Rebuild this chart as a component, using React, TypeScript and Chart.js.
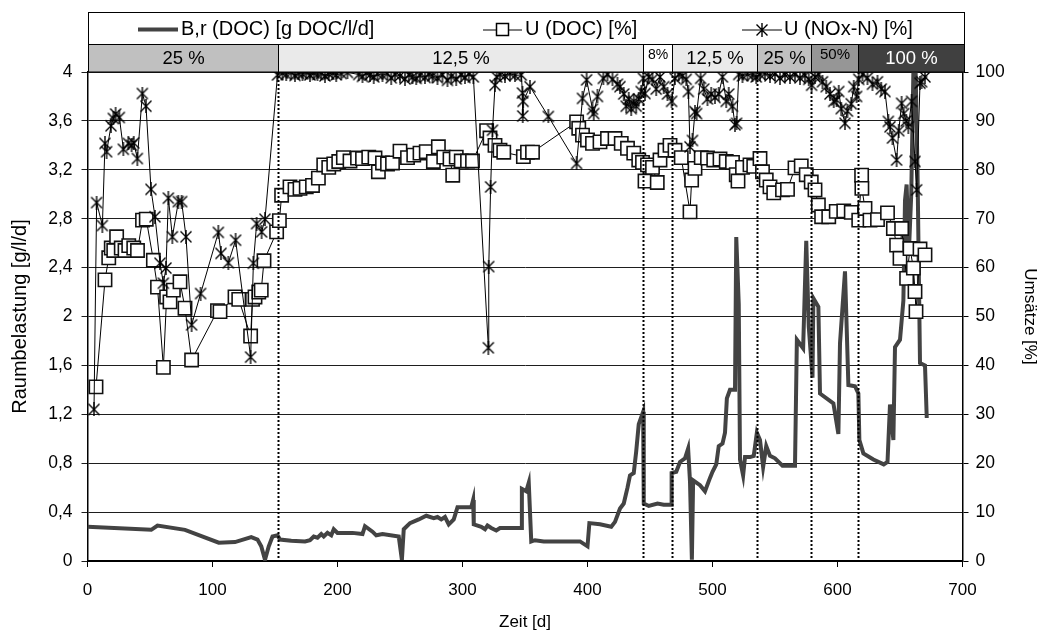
import { useEffect, useRef } from 'react';
import { Chart, registerables } from 'chart.js';

Chart.register(...registerables);

const FONT = "'Liberation Sans', Arial, sans-serif";

// B,r (DOC) volumetric load [g DOC/l/d] over time [d]
const brDays = [
  0, 51, 56, 78, 105, 118, 131, 136, 139, 142, 145, 148, 152, 154, 163, 174, 178, 181, 184, 187,
  189, 192, 195, 197, 200, 212, 220, 222, 228, 231, 236, 249, 251.5, 253, 258, 265, 271, 277, 280, 283,
  286, 289, 293, 296, 307, 308.5, 309, 315, 318, 320, 323, 327, 330, 347, 347.5, 351, 353, 355, 358, 365,
  394, 400, 401.5, 410, 419, 422, 426, 429, 432, 434, 437, 439, 441, 444.5, 445, 449, 456, 461, 467, 467.3,
  471, 474, 478, 480.5, 482, 483.5, 484.5, 490, 494, 498, 500, 503, 505, 508, 510, 511.5, 514, 518, 519, 521,
  522, 524.5, 526, 530, 533, 535.5, 538, 540.5, 543, 546, 550, 556, 566, 567.5, 572.5, 575, 577, 580, 580.7, 584.7,
  586, 596.7, 600.7, 602, 606, 608.7, 614, 616.7, 617.5, 620.7, 628.7, 637, 640, 642, 644.7, 646, 650, 652.7, 654, 655.3,
  657, 659, 660.7, 662.5, 664, 666, 670, 671.4,
];
const brValues = [
  0.28, 0.255, 0.29, 0.255, 0.15, 0.155, 0.195, 0.175, 0.12, 0.01, 0.12, 0.2, 0.21, 0.175, 0.165, 0.16, 0.17, 0.2, 0.19, 0.22,
  0.2, 0.23, 0.21, 0.26, 0.23, 0.23, 0.22, 0.285, 0.24, 0.21, 0.22, 0.2, 0.01, 0.26, 0.31, 0.34, 0.37, 0.35, 0.36, 0.34,
  0.36, 0.3, 0.34, 0.44, 0.44, 0.5, 0.3, 0.28, 0.26, 0.29, 0.27, 0.25, 0.27, 0.27, 0.59, 0.57, 0.64, 0.16, 0.17, 0.16,
  0.16, 0.12, 0.31, 0.3, 0.28, 0.32, 0.43, 0.47, 0.6, 0.7, 0.72, 0.9, 1.12, 1.22, 0.47, 0.45, 0.47, 0.46, 0.46, 0.72,
  0.73, 0.81, 0.84, 0.92, 0.65, 0.01, 0.66, 0.62, 0.57, 0.68, 0.73, 0.79, 0.94, 0.96, 1.05, 1.33, 1.4, 1.4, 2.65, 2.1,
  0.83, 0.7, 0.85, 0.85, 0.86, 1.05, 0.99, 0.77, 0.94, 0.86, 0.84, 0.78, 0.78, 1.81, 1.74, 2.62, 1.92, 1.5, 2.15, 2.08,
  1.37, 1.29, 1.04, 1.78, 2.37, 1.44, 1.43, 1.37, 0.99, 0.88, 0.83, 0.79, 0.81, 1.28, 0.99, 1.75, 1.81, 2.13, 2.95, 3.08,
  2.5, 3.0, 4.0, 4.0, 3.2, 1.62, 1.6, 1.17,
];

// U (DOC) conversion [%]
const docDays = [
  6.8, 14, 17, 19, 21, 23.3, 27, 30, 33, 37, 40, 44, 47, 52.7, 56, 60.7, 63.3, 66, 68.7, 74,
  78, 83.3, 104, 106, 118, 121, 130.5, 132, 134, 137, 139, 141.2, 151.3, 153.5, 155.3, 162, 166, 170, 175, 180,
  184.7, 189, 193, 197, 201, 204.7, 210, 216, 220, 225, 230, 232.7, 236, 240, 244, 250, 256, 261, 266, 271,
  276.7, 280.7, 285, 290, 292.2, 295, 299, 304, 308, 319.3, 322, 326, 330, 333, 348.7, 352, 356, 391.3, 393, 396,
  400, 404, 410, 416, 422, 427, 432, 437, 441, 444, 446, 448, 452, 455.8, 458, 462, 466, 470, 475, 482,
  483.3, 486, 491, 496, 501, 506, 511, 516, 519, 520.4, 524, 530, 533, 538, 540, 543, 546, 549, 556, 560,
  566, 571, 575, 579, 582, 584.7, 587.3, 593, 599, 605, 611, 617, 619.3, 619.5, 622, 626, 632, 640, 644.7, 647.3,
  650, 651.3, 655.3, 658, 660.7, 662, 662.8, 666, 670,
];
const docValues = [
  35.6, 57.5, 62, 64, 63.5, 66.3, 64, 63.5, 64.5, 64, 63.5, 69.7, 69.9, 61.5, 56, 39.6, 54, 53, 55.4, 57.1,
  51.7, 41.1, 51.2, 51, 54, 53.5, 46, 53.5, 54, 55, 55.4, 61.4, 67.3, 69.6, 74.8, 76.5, 76, 76.2, 76.5, 76.8,
  78.3, 81, 80.5, 81.2, 81.7, 82.5, 81.8, 82.4, 82.3, 82.6, 82.4, 79.6, 81.4, 81.2, 81.4, 83.8, 82.5, 83, 83.4, 83.7,
  81.7, 84.7, 82.6, 82.2, 78.9, 82.6, 81.8, 81.8, 81.8, 88, 86.5, 85, 84, 83.6, 82.7, 83.6, 83.6, 89.8, 88.5, 87.1,
  86.1, 85.4, 85.7, 86.4, 86.4, 85.4, 84.4, 83.4, 82, 81.5, 77.7, 81, 80.5, 77.4, 82, 84, 85, 84, 82.5, 71.4,
  77.9, 80.3, 82.5, 82.4, 82, 82.2, 81.7, 81.5, 79, 77.7, 80.5, 81, 80.7, 82.3, 79.6, 77.9, 76.5, 75.3, 75.9, 76,
  80.4, 80.8, 79, 77.5, 75.9, 72.8, 70.4, 70.4, 71.5, 71.6, 71.3, 69.7, 78.9, 76.2, 72.1, 69.7, 69.8, 71.2, 68, 64.6,
  61.9, 68, 57.8, 63.9, 59.9, 55.1, 51, 63.8, 62.6,
];

// U (NOx-N) conversion [%]
const noxDays = [
  5.2, 7.3, 11.9, 14, 15.3, 18.8, 20.7, 22.5, 25.5, 28.7, 32.7, 35.3, 37, 39.9, 43.9, 46.8, 50.8, 54, 58, 60.7,
  62.8, 64.7, 67.9, 72.7, 75.3, 78.8, 83.3, 90.5, 104.7, 106.8, 112.7, 118.5, 130.5, 132.7, 135.3, 139.3, 142, 152, 156, 159,
  163, 166, 169, 172, 175, 178, 181, 184, 187, 190, 193, 196, 199, 203, 208, 217, 220, 223, 226, 229,
  232, 236, 240, 243, 246, 250, 254, 257, 260, 263, 266, 270, 273, 276, 280, 284, 288, 291, 295, 299,
  302, 305, 308.7, 320.7, 321, 322.5, 324, 326, 327.3, 330, 334, 338, 342, 347, 348, 348.2, 348.5, 354, 368.7, 391.3,
  396, 399.3, 404, 405, 408, 412.7, 416, 420, 424, 426, 429, 431, 433, 435, 437, 439, 441, 443, 444.7, 446,
  449, 452, 455, 458, 461, 464, 467.3, 470, 473, 476, 479, 480.7, 482, 484, 486, 487.3, 490.5, 493, 496, 499,
  502, 505, 508, 511, 513, 516, 518, 519.3, 521, 524, 528, 532, 535, 538, 542, 546, 550, 554, 558, 562,
  566, 570, 574, 577, 579.3, 582, 585, 588, 591, 594, 597, 599.3, 601, 603, 606, 608, 611, 613, 615.3, 617,
  620, 624, 628, 632, 635, 638, 640.7, 642, 644, 647.3, 649, 651.3, 653, 655, 656.7, 659.3, 662, 663.3, 666, 667.3,
  670,
];
const noxValues = [
  31, 73.3, 68.6, 85.4, 83.7, 89, 90.5, 91.4, 90.7, 84.2, 85.4, 85, 85.5, 82.3, 95.6, 93, 76, 70.4, 60.9, 56.8,
  59.9, 74.2, 66.3, 73.5, 73.5, 66.3, 48.3, 54.7, 67.2, 62.9, 61, 65.6, 41.7, 60.9, 69, 67.3, 69.9, 99.4, 99.8, 99.5,
  99.9, 99.3, 99.7, 99.6, 99.9, 99.4, 99.8, 99.5, 99.7, 99.2, 99.6, 99.8, 99.4, 99.7, 99.9, 99.5, 99.1, 99.8, 99.4, 99,
  99.6, 99.3, 99.7, 98.8, 99.5, 99.2, 98.6, 99.4, 99, 98.7, 99.3, 98.9, 99.5, 99.2, 98.8, 99.4, 98.3, 99.1, 98.6, 99.4,
  98.9, 99.6, 99, 43.6, 60.2, 76.5, 88.1, 97.3, 99, 99.5, 99.2, 99.7, 99.3, 99.4, 95.7, 91, 94, 97, 90.9, 81.3,
  94.6, 98.4, 92.4, 91.5, 95, 98.7, 99.5, 98.5, 97.5, 97, 95.5, 93, 94.5, 92.5, 94, 93, 94.5, 96, 98.7, 95.6,
  99, 98.5, 96.5, 99, 97, 95.5, 94, 98.7, 99.5, 99.2, 98.5, 96, 84.7, 86, 91.9, 91.5, 98.7, 96.5, 94.5, 95.5,
  94.8, 95.5, 99, 94, 95.5, 93, 89.2, 89.5, 99.5, 99.2, 99.6, 99.3, 99, 99.5, 99.7, 99.2, 99.6, 98.8, 99.4, 99,
  99.5, 98.8, 99.3, 98.5, 97.3, 99, 99.5, 98, 97, 95.5, 94, 94.3, 96, 92.5, 89.5, 92, 93.5, 97, 95, 98.5,
  99.5, 98.8, 97.5, 98, 96.5, 96, 89.9, 88.8, 86.5, 82, 88, 93.6, 91.5, 90, 88.8, 94, 81.7, 75.9, 97.7, 98,
  99,
];

// Loading phases shown in the band above the plot
const phaseStarts = [0, 152.2, 444.6, 467.8, 535.6, 579, 616.2];
const phaseEnds = [152.2, 444.6, 467.8, 535.6, 579, 616.2, 700];
const phaseLabels = ['25 %', '12,5 %', '8%', '12,5 %', '25 %', '50%', '100 %'];
const phaseFills = ['#c0c0c0', '#eaeaea', '#ffffff', '#eaeaea', '#c0c0c0', '#969696', '#404040'];
const phaseTextColors = ['#000', '#000', '#000', '#000', '#000', '#000', '#fff'];
const phaseFontSizes = [18.5, 18.5, 14, 18.5, 18.5, 15, 18.5];

// Phase switch days (dotted markers)
const switchDays = [152.2, 444.6, 467.8, 535.6, 579, 616.2];

const seriesNames = ['B,r (DOC) [g DOC/l/d]', 'U (DOC) [%]', 'U (NOx-N) [%]'];

const BR_COLOR = '#434343';

function makeStar(): HTMLCanvasElement {
  const c = document.createElement('canvas');
  c.width = 14;
  c.height = 14;
  const g = c.getContext('2d')!;
  g.strokeStyle = '#000';
  g.lineWidth = 1.4;
  g.beginPath();
  g.moveTo(1.5, 1.5);
  g.lineTo(12.5, 12.5);
  g.moveTo(12.5, 1.5);
  g.lineTo(1.5, 12.5);
  g.moveTo(7, 0);
  g.lineTo(7, 14);
  g.stroke();
  return c;
}

function formatLeft(v: number): string {
  return String(Number(v.toFixed(1))).replace('.', ',');
}

export default function App() {
  const ref = useRef<HTMLCanvasElement>(null);

  useEffect(() => {
    const star = makeStar();

    const decor = {
      id: 'decor',
      afterDatasetsDraw(chart: any) {
        const { ctx, chartArea } = chart;
        const xs = chart.scales.x;
        ctx.save();
        ctx.strokeStyle = '#000';
        ctx.lineWidth = 2;
        ctx.setLineDash([2, 2]);
        for (const d of switchDays) {
          const x = Math.round(xs.getPixelForValue(d)) + 0.5;
          ctx.beginPath();
          ctx.moveTo(x, chartArea.top);
          ctx.lineTo(x, chartArea.bottom);
          ctx.stroke();
        }
        ctx.restore();
      },
      afterDraw(chart: any) {
        const { ctx, chartArea } = chart;
        const xs = chart.scales.x;
        const left = 88.5;
        const right = 964.5;
        const boxTop = 12.5;
        const bandTop = 44.5;
        const bandBottom = chartArea.top;
        ctx.save();

        // legend frame
        ctx.fillStyle = '#fff';
        ctx.fillRect(left, boxTop, right - left, bandTop - boxTop);
        ctx.strokeStyle = '#000';
        ctx.lineWidth = 1;
        ctx.strokeRect(left, boxTop, right - left, bandTop - boxTop);

        const ly = 29.5;
        ctx.textBaseline = 'middle';
        ctx.textAlign = 'left';
        ctx.font = `20px ${FONT}`;
        ctx.fillStyle = '#000';

        // B,r sample
        ctx.strokeStyle = BR_COLOR;
        ctx.lineWidth = 4;
        ctx.beginPath();
        ctx.moveTo(138, ly);
        ctx.lineTo(178, ly);
        ctx.stroke();
        ctx.fillText(seriesNames[0], 181, ly);

        // U (DOC) sample
        ctx.strokeStyle = '#000';
        ctx.lineWidth = 1;
        ctx.beginPath();
        ctx.moveTo(483, ly + 0.5);
        ctx.lineTo(522, ly + 0.5);
        ctx.stroke();
        ctx.fillStyle = '#fff';
        ctx.fillRect(496.5, ly - 6, 12, 12);
        ctx.lineWidth = 1.5;
        ctx.strokeRect(496.5, ly - 6, 12, 12);
        ctx.fillStyle = '#000';
        ctx.fillText(seriesNames[1], 525, ly);

        // U (NOx-N) sample
        ctx.lineWidth = 1;
        ctx.beginPath();
        ctx.moveTo(742, ly + 0.5);
        ctx.lineTo(782, ly + 0.5);
        ctx.stroke();
        ctx.drawImage(star, 762 - 7, ly - 6.5);
        ctx.fillText(seriesNames[2], 784, ly);

        // phase band
        for (let i = 0; i < phaseStarts.length; i++) {
          const x0 = i === 0 ? left : Math.round(xs.getPixelForValue(phaseStarts[i])) + 0.5;
          const x1 = i === phaseStarts.length - 1 ? right : Math.round(xs.getPixelForValue(phaseEnds[i])) + 0.5;
          ctx.fillStyle = phaseFills[i];
          ctx.fillRect(x0, bandTop, x1 - x0, bandBottom - bandTop);
          ctx.strokeStyle = '#000';
          ctx.lineWidth = 1;
          ctx.strokeRect(x0, bandTop, x1 - x0, bandBottom - bandTop);
          ctx.fillStyle = phaseTextColors[i];
          ctx.font = `${phaseFontSizes[i]}px ${FONT}`;
          ctx.textAlign = 'center';
          const ty = phaseFontSizes[i] < 16 ? bandTop + 10.5 : (bandTop + bandBottom) / 2 + 1;
          ctx.fillText(phaseLabels[i], (x0 + x1) / 2, ty);
        }
        ctx.restore();
      },
    };

    const tickFont = { family: FONT, size: 17 };

    const chart = new Chart(ref.current!, {
      type: 'line',
      data: {
        datasets: [
          {
            label: seriesNames[0],
            data: brDays.map((d, i) => ({ x: d, y: brValues[i] })),
            yAxisID: 'y',
            borderColor: BR_COLOR,
            borderWidth: 4,
            pointRadius: 0,
            tension: 0,
            fill: false,
            order: 3,
          },
          {
            label: seriesNames[1],
            data: docDays.map((d, i) => ({ x: d, y: docValues[i] })),
            yAxisID: 'y1',
            borderColor: '#000',
            borderWidth: 1,
            pointStyle: 'rect',
            pointRadius: 9.4,
            pointBorderWidth: 1.6,
            pointBorderColor: '#111',
            pointBackgroundColor: '#fff',
            tension: 0,
            fill: false,
            order: 2,
          },
          {
            label: seriesNames[2],
            data: noxDays.map((d, i) => ({ x: d, y: noxValues[i] })),
            yAxisID: 'y1',
            borderColor: '#000',
            borderWidth: 1,
            pointStyle: star as any,
            pointRadius: 7,
            tension: 0,
            fill: false,
            order: 1,
          },
        ],
      },
      options: {
        responsive: false,
        animation: false,
        devicePixelRatio: 1,
        layout: { padding: { top: 72, left: 0, right: 0, bottom: 0 } },
        plugins: {
          legend: { display: false },
          tooltip: { enabled: false },
        },
        scales: {
          x: {
            type: 'linear',
            position: 'bottom',
            min: 0,
            max: 700,
            ticks: { stepSize: 100, color: '#000', font: tickFont, padding: 13, maxRotation: 0 },
            grid: { drawOnChartArea: false, drawTicks: true, tickLength: 6, color: '#000' },
            border: { color: '#000', width: 2 },
            title: {
              display: true,
              text: 'Zeit [d]',
              color: '#000',
              font: tickFont,
              padding: { top: 0, bottom: 4 },
            },
            afterFit: (s: any) => {
              s.height = 76;
            },
          },
          y: {
            position: 'left',
            min: 0,
            max: 4,
            ticks: {
              stepSize: 0.4,
              color: '#000',
              font: { family: FONT, size: 17.5 },
              padding: 9,
              callback: (v: any) => formatLeft(Number(v)),
            },
            grid: { color: '#1e1e1e', lineWidth: 1, tickLength: 6 },
            border: { color: '#000', width: 1.5 },
            title: {
              display: true,
              text: 'Raumbelastung [g/l/d]',
              color: '#000',
              font: { family: FONT, size: 20 },
              padding: { top: 8, bottom: 0 },
            },
            afterFit: (s: any) => {
              s.width = 87.5;
            },
          },
          y1: {
            position: 'right',
            min: 0,
            max: 100,
            ticks: { stepSize: 10, color: '#000', font: { family: FONT, size: 17.5 }, padding: 7 },
            grid: { drawOnChartArea: false, drawTicks: true, tickLength: 6, color: '#000' },
            border: { color: '#000', width: 1.5 },
            title: {
              display: true,
              text: 'Umsätze [%]',
              color: '#000',
              font: tickFont,
              padding: { top: 4, bottom: 0 },
            },
            afterFit: (s: any) => {
              s.width = 81.5;
            },
          },
        },
      },
      plugins: [decor],
    });

    return () => chart.destroy();
  }, []);

  return (
    <div style={{ position: 'absolute', left: 0, top: 0, width: 1044, height: 637, background: '#fff' }}>
      <canvas ref={ref} width={1044} height={637} style={{ width: 1044, height: 637, display: 'block' }} />
    </div>
  );
}
